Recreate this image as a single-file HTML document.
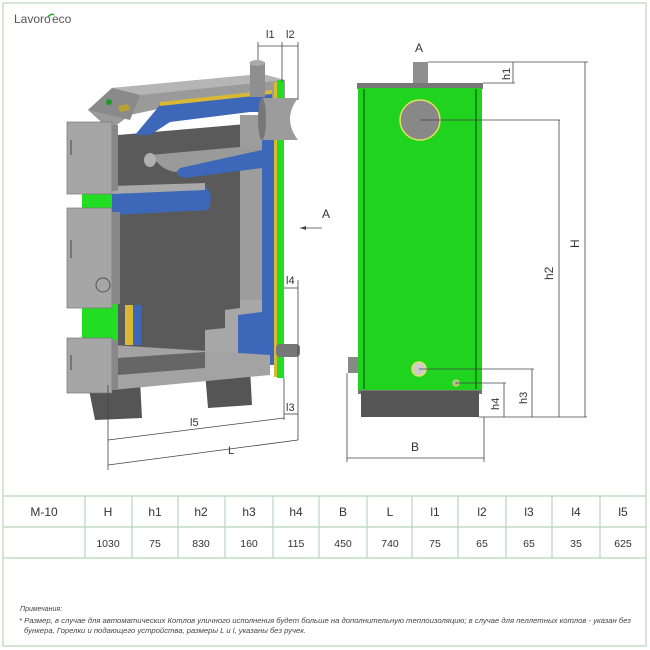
<!DOCTYPE html>
<html><head><meta charset="utf-8"><style>
body{margin:0;background:#fff;}
svg{display:block;font-family:"Liberation Sans",Arial,sans-serif;}
</style></head><body>
<svg width="650" height="650" viewBox="0 0 650 650" xmlns="http://www.w3.org/2000/svg">
<rect x="3" y="3" width="643" height="643" fill="#fff" stroke="#c9dcc9" stroke-width="1.5"/>
<text x="14" y="23" font-size="12" fill="#555">Lavoro</text><text x="52" y="23" font-size="12" fill="#555">eco</text>
<path d="M48 17 q3 -4 6 -2" stroke="#3a3" fill="none" stroke-width="1.5"/>

<g>
<path d="M88 385 L140 380 L142 418 L95 420 Z" fill="#555"/>
<path d="M205 372 L250 368 L252 405 L208 408 Z" fill="#555"/>
<rect x="82" y="190" width="48" height="155" fill="#22dd22"/>
<path d="M88 110 L112 88 L262 74 L285 80 L285 98 L200 100 L130 115 L110 130 Z" fill="#9a9a9a"/>
<path d="M112 88 L262 74 L285 80 L140 95 Z" fill="#b5b5b5"/>
<path d="M88 110 L112 88 L140 95 L130 120 Z" fill="#8a8a8a"/>
<circle cx="109" cy="102" r="3" fill="#1a9a2a"/>
<path d="M118 106 l10 -2 l2 6 l-10 2z" fill="#b9a433"/>
<path d="M118 135 L270 122 L270 360 L118 365 Z" fill="#5a5a5a"/>
<path d="M135 135 L160 105 L272 93 L272 112 L250 112 L170 122 L150 135 Z" fill="#3d67b8"/>
<path d="M160 102 L272 90 L272 94 L160 106 Z" fill="#d9b836"/>
<rect x="240" y="115" width="22" height="250" fill="#9d9d9d"/>
<rect x="262" y="105" width="12" height="260" fill="#3d67b8"/>
<rect x="274" y="82" width="3" height="295" fill="#d9b836"/>
<rect x="277" y="80" width="7" height="298" fill="#22dd22"/>
<path d="M150 155 L262 145 L262 165 L175 172 Q165 170 160 165 Z" fill="#9a9a9a"/>
<path d="M180 168 L262 150 L262 168 L185 178 Q172 175 180 168 Z" fill="#3d67b8"/>
<ellipse cx="150" cy="160" rx="6" ry="7" fill="#b0b0b0"/>
<path d="M112 188 L205 185 Q215 195 208 210 L112 215 Z" fill="#3d67b8"/>
<path d="M112 186 L205 183 L205 190 L112 194 Z" fill="#a9a9a9"/>
<rect x="125" y="305" width="8" height="40" fill="#d9b836"/>
<rect x="133" y="305" width="8" height="40" fill="#3d67b8"/>
<path d="M205 330 L225 328 L225 310 L240 308 L240 300 L262 300 L262 358 L205 362 Z" fill="#a7a7a7"/>
<path d="M238 315 L262 312 L262 360 L238 362 Z" fill="#3d67b8"/>
<path d="M112 345 L270 355 L270 375 L112 390 Z" fill="#a3a3a3"/>
<path d="M118 358 L205 352 L205 368 L118 375 Z" fill="#666"/>
<rect x="67" y="122" width="45" height="72" fill="#a6a6a6" stroke="#777" stroke-width="0.7"/>
<rect x="112" y="125" width="6" height="66" fill="#888"/>
<rect x="67" y="208" width="45" height="100" fill="#a6a6a6" stroke="#777" stroke-width="0.7"/>
<rect x="112" y="212" width="8" height="92" fill="#888"/>
<circle cx="103" cy="285" r="7" fill="none" stroke="#555"/>
<rect x="67" y="338" width="45" height="55" fill="#a6a6a6" stroke="#777" stroke-width="0.7"/>
<rect x="112" y="340" width="6" height="50" fill="#888"/>
<line x1="71" y1="140" x2="71" y2="155" stroke="#444"/>
<line x1="71" y1="240" x2="71" y2="258" stroke="#444"/>
<line x1="71" y1="355" x2="71" y2="370" stroke="#444"/>
<rect x="250" y="62" width="15" height="35" fill="#8f8f8f"/>
<ellipse cx="257" cy="63" rx="7.5" ry="3" fill="#aaa"/>
<path d="M262 98 L298 98 L298 140 L262 140 Z" fill="#9c9c9c"/>
<path d="M298 98 Q282 119 298 140" fill="#fff"/>
<ellipse cx="262" cy="119" rx="4" ry="21" fill="#777"/>
<rect x="276" y="344" width="24" height="13" rx="4" fill="#777"/>
</g>
<g stroke="#444" stroke-width="0.8" fill="none">
<line x1="258" y1="42" x2="258" y2="60"/><line x1="282" y1="42" x2="282" y2="82"/><line x1="298" y1="42" x2="298" y2="100"/>
<line x1="258" y1="46" x2="298" y2="46"/>
<line x1="284" y1="288" x2="298" y2="288"/><line x1="298" y1="280" x2="298" y2="440"/>
<line x1="284" y1="378" x2="284" y2="420"/>
<line x1="284" y1="414" x2="298" y2="414"/>
<line x1="108" y1="385" x2="108" y2="470"/>
<line x1="108" y1="440" x2="284" y2="418"/>
<line x1="108" y1="465" x2="298" y2="440"/>
<line x1="300" y1="228" x2="322" y2="228"/>
</g>
<g font-size="11" fill="#333">
<text x="266" y="38">l1</text><text x="286" y="38">l2</text>
<text x="286" y="284">l4</text><text x="286" y="411">l3</text>
<text x="190" y="426">l5</text><text x="228" y="454">L</text>
<text x="322" y="218" font-size="12">A</text>
</g>
<path d="M300 228 l6 -2 l0 4z" fill="#444"/>

<rect x="413" y="62" width="15" height="22" fill="#8f8f8f"/>
<rect x="357" y="83" width="126" height="6" fill="#777"/>
<rect x="358" y="88" width="124" height="302" fill="#1fd31f"/>
<line x1="364" y1="89" x2="364" y2="389" stroke="#0b6a0b" stroke-width="1.3"/>
<line x1="476" y1="89" x2="476" y2="389" stroke="#0b6a0b" stroke-width="1.3"/>
<circle cx="420" cy="120" r="20" fill="#888" stroke="#e5e05a" stroke-width="1.5"/>
<circle cx="419" cy="369" r="7" fill="#ccc" stroke="#e5e05a" stroke-width="1.5"/>
<circle cx="456" cy="383" r="3" fill="#aaa" stroke="#e5e05a"/>
<rect x="348" y="357" width="10" height="16" fill="#888"/>
<rect x="358" y="390" width="124" height="4" fill="#777"/>
<rect x="361" y="391" width="118" height="26" fill="#555"/>
<g stroke="#444" stroke-width="0.8" fill="none">
<line x1="428" y1="62" x2="588" y2="62"/><line x1="483" y1="83" x2="515" y2="83"/>
<line x1="513" y1="62" x2="513" y2="83"/>
<line x1="585" y1="62" x2="585" y2="417"/>
<line x1="420" y1="120" x2="560" y2="120"/><line x1="559" y1="120" x2="559" y2="417"/>
<line x1="419" y1="369" x2="534" y2="369"/><line x1="532" y1="369" x2="532" y2="417"/>
<line x1="456" y1="383" x2="506" y2="383"/><line x1="504" y1="383" x2="504" y2="417"/>
<line x1="479" y1="417" x2="587" y2="417"/>
<line x1="347" y1="373" x2="347" y2="462"/><line x1="484" y1="417" x2="484" y2="462"/>
<line x1="347" y1="458" x2="484" y2="458"/>
</g>
<g font-size="12" fill="#333">
<text x="415" y="52">A</text>
<text x="411" y="451">B</text>
<text transform="translate(510,80) rotate(-90)" font-size="11">h1</text>
<text transform="translate(579,248) rotate(-90)">H</text>
<text transform="translate(553,280) rotate(-90)">h2</text>
<text transform="translate(527,404) rotate(-90)" font-size="11">h3</text>
<text transform="translate(499,410) rotate(-90)" font-size="11">h4</text>
</g>

<g stroke="#b8d4b8" stroke-width="1.2" fill="none">
<line x1="3" y1="496" x2="646" y2="496"/><line x1="3" y1="527" x2="646" y2="527"/><line x1="3" y1="558" x2="646" y2="558"/>
<line x1="85" y1="496" x2="85" y2="558"/><line x1="132" y1="496" x2="132" y2="558"/><line x1="178" y1="496" x2="178" y2="558"/>
<line x1="225" y1="496" x2="225" y2="558"/><line x1="273" y1="496" x2="273" y2="558"/><line x1="319" y1="496" x2="319" y2="558"/>
<line x1="367" y1="496" x2="367" y2="558"/><line x1="412" y1="496" x2="412" y2="558"/><line x1="458" y1="496" x2="458" y2="558"/>
<line x1="506" y1="496" x2="506" y2="558"/><line x1="552" y1="496" x2="552" y2="558"/><line x1="600" y1="496" x2="600" y2="558"/>
</g>
<g font-size="12" fill="#333" text-anchor="middle">
<text x="44" y="516">M-10</text><text x="108" y="516">H</text><text x="155" y="516">h1</text><text x="201" y="516">h2</text>
<text x="249" y="516">h3</text><text x="296" y="516">h4</text><text x="343" y="516">B</text><text x="390" y="516">L</text>
<text x="435" y="516">l1</text><text x="482" y="516">l2</text><text x="529" y="516">l3</text><text x="576" y="516">l4</text><text x="623" y="516">l5</text>
</g>
<g font-size="10.5" fill="#333" text-anchor="middle">
<text x="108" y="547">1030</text><text x="155" y="547">75</text><text x="201" y="547">830</text>
<text x="249" y="547">160</text><text x="296" y="547">115</text><text x="343" y="547">450</text><text x="390" y="547">740</text>
<text x="435" y="547">75</text><text x="482" y="547">65</text><text x="529" y="547">65</text><text x="576" y="547">35</text><text x="623" y="547">625</text>
</g>
<g font-size="7" fill="#444" font-style="italic">
<text x="20" y="611">Примечания:</text>
<text x="19" y="623" textLength="612" lengthAdjust="spacingAndGlyphs">* Размер, в случае для автоматических Котлов уличного исполнения будет больше на дополнительную теплоизоляцию; в случае для пеллетных котлов - указан без</text>
<text x="24" y="633" textLength="282" lengthAdjust="spacingAndGlyphs">бункера, Горелки и подающего устройства, размеры L и l, указаны без ручек.</text>
</g>
</svg>
</body></html>
